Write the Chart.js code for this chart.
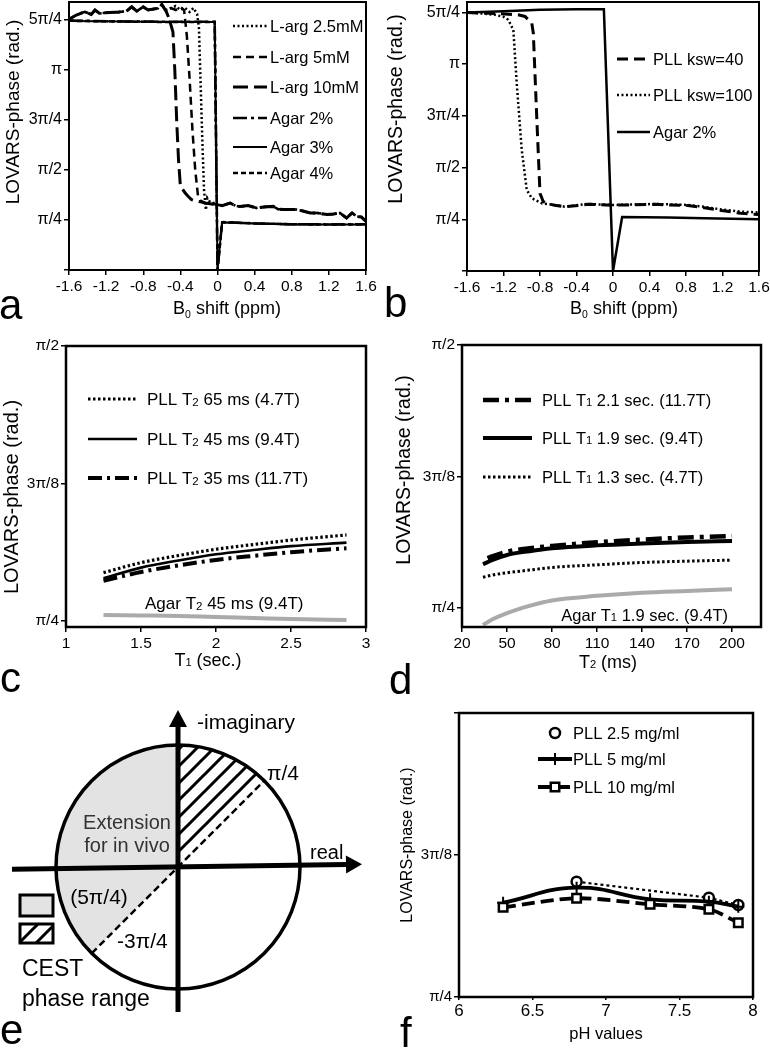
<!DOCTYPE html>
<html>
<head>
<meta charset="utf-8">
<script src="https://cdn.jsdelivr.net/npm/chart.js@4.4.0/dist/chart.umd.min.js"></script>
<style>
body{margin:0;background:#fff;width:770px;height:1050px;overflow:hidden;position:relative;font-family:"Liberation Sans",Arial,sans-serif;color:#000;}
canvas{position:absolute;}
.t{position:absolute;white-space:nowrap;line-height:1;}
.yt{transform:translate(-50%,-50%) rotate(-90deg);}
.xt{transform:translate(-50%,-50%);}
.sm{font-size:62%;}
.sb{font-size:58%;vertical-align:-4px;}
.let{position:absolute;font-size:42px;line-height:1;}
</style>
</head>
<body>
<canvas id="ca" style="left:0;top:0" width="385" height="300"></canvas>
<canvas id="cb" style="left:385px;top:0" width="385" height="300"></canvas>
<canvas id="cc" style="left:0;top:300px" width="385" height="360"></canvas>
<canvas id="cd" style="left:385px;top:300px" width="385" height="360"></canvas>
<canvas id="ce" style="left:0;top:690px" width="385" height="360"></canvas>
<canvas id="cf" style="left:385px;top:630px" width="385" height="420"></canvas>

<div class="t yt" style="left:12px;top:112px;font-size:19px">LOVARS-phase (rad.)</div>
<div class="t yt" style="left:396px;top:109px;font-size:19.5px">LOVARS-phase (rad.)</div>
<div class="t yt" style="left:11px;top:497px;font-size:20px">LOVARS-phase (rad.)</div>
<div class="t yt" style="left:404px;top:470px;font-size:19.5px">LOVARS-phase (rad.)</div>
<div class="t yt" style="left:407px;top:845px;font-size:16px">LOVARS-phase (rad.)</div>

<div class="t xt" style="left:227px;top:310px;font-size:18px">B<span class="sb">0</span> shift (ppm)</div>
<div class="t xt" style="left:624px;top:310px;font-size:18px">B<span class="sb">0</span> shift (ppm)</div>
<div class="t xt" style="left:208px;top:660px;font-size:18px">T<span class="sm">1</span> (sec.)</div>
<div class="t xt" style="left:608px;top:662px;font-size:18px">T<span class="sm">2</span> (ms)</div>
<div class="t xt" style="left:606px;top:1033px;font-size:16.5px">pH values</div>

<div class="let" style="left:-1px;top:284px">a</div>
<div class="let" style="left:384px;top:282px">b</div>
<div class="let" style="left:0;top:657px">c</div>
<div class="let" style="left:389px;top:659px">d</div>
<div class="let" style="left:0;top:1009px">e</div>
<div class="let" style="left:400px;top:1012px">f</div>

<script>
'use strict';
const FONT = '"Liberation Sans", Arial, sans-serif';

// ---------- data (phase values in multiples of pi) ----------
// panel a
const bShiftTicks = [-1.6, -1.2, -0.8, -0.4, 0, 0.4, 0.8, 1.2, 1.6];
const bShiftLabels = ['-1.6', '-1.2', '-0.8', '-0.4', '0', '0.4', '0.8', '1.2', '1.6'];
const phaseTicksAB = [0, 0.25, 0.5, 0.75, 1, 1.25];
const phaseLabelsAB = ['', 'π/4', 'π/2', '3π/4', 'π', '5π/4'];

const lArgTop = [[-1.6,1.254],[-1.52,1.275],[-1.43,1.291],[-1.36,1.278],[-1.32,1.30],[-1.27,1.283],[-1.16,1.288],[-1.06,1.29],[-0.98,1.294],[-0.925,1.316],[-0.87,1.294],[-0.8,1.316],[-0.75,1.30],[-0.64,1.308],[-0.6,1.328]];
const lArg25Mid = [[-0.56,1.30],[-0.5,1.31],[-0.45,1.32],[-0.4,1.30],[-0.35,1.31],[-0.3,1.29],[-0.26,1.31],[-0.22,1.28],[-0.2,1.21],[-0.18,0.9],[-0.16,0.6],[-0.145,0.40],[-0.125,0.30],[-0.11,0.36],[-0.08,0.34],[-0.04,0.335]];
const lArg5Mid = [[-0.56,1.30],[-0.5,1.31],[-0.45,1.30],[-0.4,1.316],[-0.36,1.30],[-0.33,1.17],[-0.30,0.95],[-0.27,0.7],[-0.24,0.5],[-0.21,0.37],[-0.18,0.345]];
const lArg10Mid = [[-0.55,1.29],[-0.52,1.255],[-0.48,1.19],[-0.46,1.0],[-0.44,0.75],[-0.42,0.55],[-0.40,0.42],[-0.386,0.411],[-0.35,0.386],[-0.32,0.37],[-0.28,0.352],[-0.22,0.344],[-0.17,0.34]];
const lArgLow = [[-0.135,0.335],[-0.06,0.33],[-0.01,0.327],[0.05,0.322],[0.135,0.335],[0.2,0.32],[0.24,0.318],[0.33,0.322],[0.42,0.31],[0.5,0.315],[0.6,0.318],[0.65,0.305],[0.71,0.302],[0.85,0.302],[0.92,0.295],[1.0,0.285],[1.08,0.285],[1.18,0.277],[1.25,0.28],[1.32,0.285],[1.39,0.26],[1.45,0.285],[1.5,0.268],[1.55,0.265],[1.6,0.243]];
const agar2A = [[-1.6,1.247],[-1.0,1.243],[-0.5,1.241],[-0.03,1.241],[0,0],[0.05,0.24],[0.4,0.233],[0.8,0.229],[1.2,0.228],[1.6,0.229]];
const agar3A = [[-1.6,1.245],[-1.0,1.242],[-0.5,1.24],[-0.03,1.24],[0,0],[0.05,0.238],[0.4,0.232],[0.8,0.228],[1.2,0.227],[1.6,0.228]];
const agar4A = [[-1.6,1.246],[-1.0,1.242],[-0.5,1.24],[-0.03,1.24],[0,0],[0.05,0.239],[0.4,0.233],[0.8,0.229],[1.2,0.227],[1.6,0.228]];

// panel b
const pll40 = [[-1.6,1.249],[-1.3,1.245],[-1.04,1.238],[-0.964,1.23],[-0.89,1.198],[-0.873,1.149],[-0.836,0.746],[-0.8,0.375],[-0.764,0.335],[-0.709,0.324],[-0.64,0.318],[-0.53,0.31],[-0.27,0.322],[0,0.318],[0.46,0.322],[0.82,0.316],[1.0,0.306],[1.19,0.292],[1.4,0.279],[1.6,0.273]];
const pll100 = [[-1.6,1.249],[-1.45,1.245],[-1.29,1.238],[-1.2,1.228],[-1.147,1.214],[-1.092,1.165],[-1.055,0.907],[-1.0,0.585],[-0.945,0.392],[-0.89,0.352],[-0.78,0.327],[-0.64,0.319],[-0.53,0.311],[-0.27,0.324],[0,0.319],[0.46,0.324],[0.82,0.319],[1.0,0.31],[1.19,0.297],[1.4,0.287],[1.6,0.283]];
const agarB = [[-1.6,1.249],[-1.2,1.255],[-0.8,1.262],[-0.4,1.265],[-0.1,1.265],[0,0],[0.1,0.261],[0.6,0.259],[1.0,0.255],[1.6,0.25]];

// panel c
const t1Ticks = [1, 1.5, 2, 2.5, 3];
const t1Labels = ['1', '1.5', '2', '2.5', '3'];
const phaseTicksCD = [0.25, 0.375, 0.5];
const phaseLabelsCD = ['π/4', '3π/8', 'π/2'];
const t1Vals = [1.25, 1.5, 1.75, 2, 2.25, 2.5, 2.87];
const pllT2_65 = [0.2939, 0.303, 0.3095, 0.3152, 0.3195, 0.3235, 0.3282];
const pllT2_45 = [0.2888, 0.2985, 0.305, 0.3106, 0.3145, 0.318, 0.3212];
const pllT2_35 = [0.2866, 0.2945, 0.3005, 0.3055, 0.3092, 0.3125, 0.3161];
const agarT2_45 = [0.2555, 0.255, 0.2545, 0.2535, 0.2527, 0.2518, 0.2509];

// panel d
const t2Ticks = [20, 50, 80, 110, 140, 170, 200];
const t2Labels = ['20', '50', '80', '110', '140', '170', '200'];
const t2Vals = [34, 40, 50, 65, 80, 110, 140, 170, 200];
const t2ValsDD = [37, 40, 50, 65, 80, 110, 140, 170, 200];
const pllT1_21 = [0.2973, 0.299, 0.3035, 0.3068, 0.309, 0.3125, 0.315, 0.317, 0.3184];
const pllT1_19 = [0.2915, 0.2955, 0.3004, 0.304, 0.3067, 0.3095, 0.3113, 0.3127, 0.3137];
const pllT1_13 = [0.2792, 0.2812, 0.2835, 0.286, 0.2885, 0.291, 0.2932, 0.2945, 0.2955];
const agarT1_19 = [0.2338, 0.239, 0.2452, 0.252, 0.2571, 0.2615, 0.2645, 0.2662, 0.2678];

// panel e
const sectorNames = ['CEST phase range', 'rest', 'Extension for in vivo'];
const sectorDeg = [45, 180, 135];

// panel f
const phTicks = [6, 6.5, 7, 7.5, 8];
const phLabels = ['6', '6.5', '7', '7.5', '8'];
const phaseTicksF = [0.25, 0.375, 0.5];
const phaseLabelsF = ['π/4', '3π/8', ''];
const phVals = [6.3, 6.8, 7.3, 7.7, 7.9];
const pll25mg = [null, 0.3515, null, 0.3374, 0.331];
const pll5mg = [0.333, 0.3462, 0.336, 0.3339, 0.3295];
const pll10mg = [0.329, 0.3369, 0.3316, 0.3272, 0.3154];

// ---------- helpers ----------
const xy = arr => arr.map(p => ({x: p[0], y: p[1]}));
const zip = (xs, ys) => xs.map((x, i) => ({x: x, y: ys[i]}));

function ds(label, data, width, dash, extra) {
    return Object.assign({label: label, data: data, borderColor: '#000', backgroundColor: '#000',
        borderWidth: width, borderDash: dash, pointRadius: 0, tension: 0, fill: false}, extra || {});
}

// small digit after "T" (T1, T2)
function richText(ctx, str, x, y, size, align) {
    const parts = str.split(/(?<=T)(\d)(?= )/);
    const fontOf = i => (i % 2 ? size * 0.68 : size) + 'px ' + FONT;
    let w = 0;
    parts.forEach((p, i) => { ctx.font = fontOf(i); w += ctx.measureText(p).width; });
    let cx = align === 'right' ? x - w : x;
    ctx.textAlign = 'left';
    ctx.textBaseline = 'alphabetic';
    const base = y + size * 0.36;
    parts.forEach((p, i) => {
        ctx.font = fontOf(i);
        ctx.fillText(p, cx, base + (i % 2 ? size * 0.03 : 0));
        cx += ctx.measureText(p).width;
    });
}

const frame = {
    id: 'frame',
    afterDatasetsDraw(chart, args, o) {
        const a = chart.chartArea, ctx = chart.ctx;
        ctx.save();
        ctx.strokeStyle = '#000';
        ctx.lineWidth = o.w || 2;
        ctx.strokeRect(a.left, a.top, a.right - a.left, a.bottom - a.top);
        ctx.restore();
    }
};

const inLegend = {
    id: 'inLegend',
    afterDatasetsDraw(chart, args, o) {
        const ctx = chart.ctx;
        (o.items || []).forEach(it => {
            const d = chart.data.datasets[it.ds];
            ctx.save();
            if (it.line !== false) {
                ctx.strokeStyle = d.borderColor;
                ctx.lineWidth = d.borderWidth;
                ctx.setLineDash(d.borderDash || []);
                ctx.beginPath();
                ctx.moveTo(o.x1, it.y);
                ctx.lineTo(o.x2, it.y);
                ctx.stroke();
            }
            if (d.pointStyle && d.pointRadius) {
                ctx.setLineDash([]);
                ctx.fillStyle = d.pointBackgroundColor || '#fff';
                ctx.strokeStyle = d.borderColor;
                ctx.lineWidth = d.pointBorderWidth || 1;
                Chart.helpers.drawPoint(ctx, {pointStyle: d.pointStyle, radius: d.pointRadius,
                    borderWidth: d.pointBorderWidth || 1, rotation: 0}, (o.x1 + o.x2) / 2, it.y);
            }
            ctx.fillStyle = '#000';
            richText(ctx, d.label, o.tx, it.y, o.size);
            ctx.restore();
        });
        (o.notes || []).forEach(n => {
            ctx.save();
            ctx.fillStyle = '#000';
            richText(ctx, n.text, n.x, n.y, o.size, n.align);
            ctx.restore();
        });
    }
};

function axis(dir, g, s) {
    return {
        type: 'linear', min: s.min, max: s.max,
        afterBuildTicks: sc => { sc.ticks = s.ticks.map(v => ({value: v})); },
        afterFit: sc => {
            if (dir === 'x') sc.height = g.h - g.bottom; else sc.width = g.left;
            sc.paddingLeft = sc.paddingRight = sc.paddingTop = sc.paddingBottom = 0;
        },
        ticks: {autoSkip: false, maxRotation: 0, minRotation: 0, padding: s.pad === undefined ? 2 : s.pad,
            color: '#000', font: {family: FONT, size: s.font}, callback: (v, i) => s.labels[i]},
        grid: {drawOnChartArea: false, drawTicks: true, tickLength: s.tl === undefined ? 5 : s.tl,
            color: '#000', lineWidth: 1.5},
        border: {display: false}
    };
}

function opts(g, sx, sy, legend) {
    return {
        responsive: false, animation: false,
        layout: {autoPadding: false, padding: {left: 0, top: g.top, right: g.w - g.right, bottom: 0}},
        plugins: {legend: {display: false}, tooltip: {enabled: false}, inLegend: legend, frame: {w: g.fw}},
        scales: {x: axis('x', g, sx), y: axis('y', g, sy)},
        elements: {point: {radius: 0}}
    };
}

// ---------- panel a ----------
const gA = {w: 385, h: 300, left: 69, right: 366, top: 2, bottom: 270, fw: 2};
new Chart(document.getElementById('ca'), {
    type: 'line',
    data: {datasets: [
        ds('L-arg 2.5mM', xy(lArgTop.concat(lArg25Mid, lArgLow.filter(p => p[0] > -0.04))), 2.5, [2, 2.5]),
        ds('L-arg 5mM', xy(lArgTop.concat(lArg5Mid, lArgLow)), 2.5, [8, 5]),
        ds('L-arg 10mM', xy(lArgTop.concat(lArg10Mid, lArgLow)), 3, [15, 6]),
        ds('Agar 2%', xy(agar2A), 2.5, [14, 4, 3, 4]),
        ds('Agar 3%', xy(agar3A), 2, []),
        ds('Agar 4%', xy(agar4A), 2.5, [5, 3])
    ]},
    options: opts(gA,
        {min: -1.6, max: 1.6, ticks: bShiftTicks, labels: bShiftLabels, font: 15.5},
        {min: 0, max: 1.34, ticks: phaseTicksAB, labels: phaseLabelsAB, font: 16},
        {x1: 233, x2: 267, tx: 270, size: 16.5,
         items: [{ds: 0, y: 26}, {ds: 1, y: 57}, {ds: 2, y: 87}, {ds: 3, y: 118}, {ds: 4, y: 147}, {ds: 5, y: 173}]}),
    plugins: [frame, inLegend]
});

// ---------- panel b ----------
const gB = {w: 385, h: 300, left: 82, right: 374, top: 2, bottom: 271, fw: 2};
new Chart(document.getElementById('cb'), {
    type: 'line',
    data: {datasets: [
        ds('PLL ksw=40', xy(pll40), 3, [11, 6]),
        ds('PLL ksw=100', xy(pll100), 2.5, [2, 2.5]),
        ds('Agar 2%', xy(agarB), 2.5, [])
    ]},
    options: opts(gB,
        {min: -1.6, max: 1.6, ticks: bShiftTicks, labels: bShiftLabels, font: 15.5},
        {min: 0, max: 1.30, ticks: phaseTicksAB, labels: phaseLabelsAB, font: 16},
        {x1: 232, x2: 265, tx: 268, size: 16.5,
         items: [{ds: 0, y: 59}, {ds: 1, y: 95}, {ds: 2, y: 132}]}),
    plugins: [frame, inLegend]
});

// ---------- panel c ----------
const gC = {w: 385, h: 360, left: 66, right: 366, top: 46, bottom: 327, fw: 2.5};
const smooth = {tension: 0.4, cubicInterpolationMode: 'monotone'};
new Chart(document.getElementById('cc'), {
    type: 'line',
    data: {datasets: [
        ds('PLL T2 65 ms (4.7T)', zip(t1Vals, pllT2_65), 3.2, [2.5, 2.5], smooth),
        ds('PLL T2 45 ms (9.4T)', zip(t1Vals, pllT2_45), 2.6, [], smooth),
        ds('PLL T2 35 ms (11.7T)', zip(t1Vals, pllT2_35), 4, [14, 5, 3, 5], smooth),
        ds('Agar T2 45 ms (9.4T)', zip(t1Vals, agarT2_45), 4, [], Object.assign({borderColor: '#aaaaaa'}, smooth))
    ]},
    options: opts(gC,
        {min: 1, max: 3, ticks: t1Ticks, labels: t1Labels, font: 15.5},
        {min: 0.2445, max: 0.5, ticks: phaseTicksCD, labels: phaseLabelsCD, font: 15.5},
        {x1: 88, x2: 137, tx: 147, size: 17,
         items: [{ds: 0, y: 99}, {ds: 1, y: 139}, {ds: 2, y: 178}],
         notes: [{text: 'Agar T2 45 ms (9.4T)', x: 145, y: 303}]}),
    plugins: [frame, inLegend]
});

// ---------- panel d ----------
const gD = {w: 385, h: 360, left: 77, right: 376, top: 45, bottom: 327, fw: 2.5};
new Chart(document.getElementById('cd'), {
    type: 'line',
    data: {datasets: [
        ds('PLL T1 2.1 sec. (11.7T)', zip(t2ValsDD, pllT1_21), 4.5, [16, 6, 4, 6], smooth),
        ds('PLL T1 1.9 sec. (9.4T)', zip(t2Vals, pllT1_19), 4, [], smooth),
        ds('PLL T1 1.3 sec. (4.7T)', zip(t2Vals, pllT1_13), 3, [2.5, 2.5], smooth),
        ds('Agar T1 1.9 sec. (9.4T)', zip(t2Vals, agarT1_19), 4, [], Object.assign({borderColor: '#aaaaaa'}, smooth))
    ]},
    options: opts(gD,
        {min: 20, max: 219.3, ticks: t2Ticks, labels: t2Labels, font: 15.5},
        {min: 0.2319, max: 0.5, ticks: phaseTicksCD, labels: phaseLabelsCD, font: 15.5},
        {x1: 98, x2: 147, tx: 157, size: 16.5,
         items: [{ds: 0, y: 100}, {ds: 1, y: 138}, {ds: 2, y: 177}],
         notes: [{text: 'Agar T1 1.9 sec. (9.4T)', x: 343, y: 315, align: 'right'}]}),
    plugins: [frame, inLegend]
});

// ---------- panel e ----------
const pc = document.createElement('canvas');
pc.width = pc.height = 17;
const pctx = pc.getContext('2d');
pctx.fillStyle = '#fff';
pctx.fillRect(0, 0, 17, 17);
pctx.strokeStyle = '#000';
pctx.lineWidth = 3;
pctx.beginPath();
pctx.moveTo(-2, 19); pctx.lineTo(19, -2);
pctx.moveTo(-2, 2); pctx.lineTo(2, -2);
pctx.moveTo(15, 19); pctx.lineTo(19, 15);
pctx.stroke();
const hatch = pctx.createPattern(pc, 'repeat');
const grayFill = '#e3e3e3';

function arrowLine(ctx, x0, y0, x1, y1, len, half) {
    const a = Math.atan2(y1 - y0, x1 - x0);
    const bx = x1 - len * Math.cos(a), by = y1 - len * Math.sin(a);
    ctx.beginPath(); ctx.moveTo(x0, y0); ctx.lineTo(bx, by); ctx.stroke();
    ctx.beginPath();
    ctx.moveTo(x1, y1);
    ctx.lineTo(bx + half * Math.sin(a), by - half * Math.cos(a));
    ctx.lineTo(bx - half * Math.sin(a), by + half * Math.cos(a));
    ctx.closePath(); ctx.fill();
}

const phaseDiagram = {
    id: 'phaseDiagram',
    afterDatasetsDraw(chart) {
        const arc = chart.getDatasetMeta(0).data[0];
        const cx = arc.x, cy = arc.y, r = arc.outerRadius;
        const ctx = chart.ctx;
        const d = r * Math.SQRT1_2;
        ctx.save();
        ctx.strokeStyle = '#000';
        ctx.fillStyle = '#000';
        ctx.lineWidth = 2.5;
        ctx.setLineDash([7, 4]);
        ctx.beginPath(); ctx.moveTo(cx - d, cy + d); ctx.lineTo(cx + d, cy - d); ctx.stroke();
        ctx.setLineDash([]);
        ctx.lineWidth = 3.5;
        ctx.beginPath(); ctx.arc(cx, cy, r, 0, 2 * Math.PI); ctx.stroke();
        ctx.lineWidth = 5;
        arrowLine(ctx, cx - 166, cy + 2.3, cx + 184, cy - 2.7, 16, 9);
        arrowLine(ctx, cx, cy + 145, cx, cy - 157, 17, 9);
        // legend boxes
        ctx.lineWidth = 3;
        ctx.fillStyle = grayFill;
        ctx.fillRect(20, 205, 33, 21); ctx.strokeRect(20, 205, 33, 21);
        ctx.fillStyle = hatch;
        ctx.fillRect(20, 234, 33, 19); ctx.strokeRect(20, 234, 33, 19);
        // labels
        ctx.textBaseline = 'middle';
        ctx.textAlign = 'center';
        ctx.fillStyle = '#333';
        ctx.font = '20px ' + FONT;
        ctx.fillText('Extension', 127, 133);
        ctx.fillText('for in vivo', 127, 156);
        ctx.fillStyle = '#000';
        ctx.font = '21px ' + FONT;
        ctx.fillText('(5π/4)', 99, 208);
        ctx.textAlign = 'left';
        ctx.fillText('-imaginary', 197, 33);
        ctx.fillText('π/4', 267, 84);
        ctx.fillText('-3π/4', 117, 252);
        ctx.font = '20px ' + FONT;
        ctx.fillText('real', 310, 163);
        ctx.font = '23px ' + FONT;
        ctx.fillText('CEST', 22, 280);
        ctx.fillText('phase range', 22, 310);
        ctx.restore();
    }
};

new Chart(document.getElementById('ce'), {
    type: 'pie',
    data: {labels: sectorNames, datasets: [{data: sectorDeg, backgroundColor: [hatch, '#ffffff', grayFill],
        borderWidth: 0, hoverOffset: 0, offset: 0}]},
    options: {responsive: false, animation: false, rotation: 0,
        layout: {autoPadding: false, padding: {left: 56, right: 85, top: 55, bottom: 61}},
        plugins: {legend: {display: false}, tooltip: {enabled: false}}},
    plugins: [phaseDiagram]
});

// ---------- panel f ----------
const gF = {w: 385, h: 420, left: 74, right: 368, top: 83, bottom: 367, fw: 2.5};
new Chart(document.getElementById('cf'), {
    type: 'line',
    data: {datasets: [
        ds('PLL 10 mg/ml', zip(phVals, pll10mg), 3.8, [13, 6],
            {tension: 0.3, pointStyle: 'rect', pointRadius: 6, pointBackgroundColor: '#fff', pointBorderWidth: 2.5}),
        ds('PLL 5 mg/ml', zip(phVals, pll5mg), 3.8, [],
            {tension: 0.45, pointStyle: 'cross', pointRadius: 6, pointBorderWidth: 2}),
        ds('PLL 2.5 mg/ml', zip(phVals, pll25mg), 2.2, [3, 3],
            {spanGaps: true, pointStyle: 'circle', pointRadius: 5, pointBackgroundColor: '#fff', pointBorderWidth: 2.5})
    ]},
    options: opts(gF,
        {min: 6, max: 8, ticks: phTicks, labels: phLabels, font: 17, tl: 3, pad: 1},
        {min: 0.25, max: 0.5, ticks: phaseTicksF, labels: phaseLabelsF, font: 15},
        {x1: 153, x2: 187, tx: 188, size: 16.5,
         items: [{ds: 2, y: 103, line: false}, {ds: 1, y: 129}, {ds: 0, y: 157}]}),
    plugins: [frame, inLegend]
});
</script>
</body>
</html>
